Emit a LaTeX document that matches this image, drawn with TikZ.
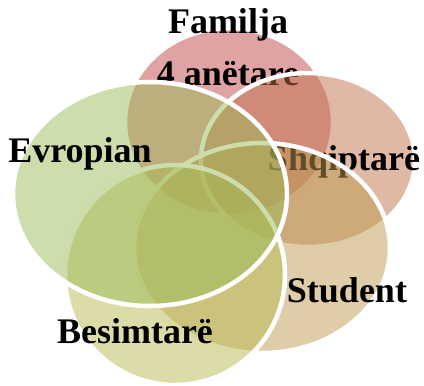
\documentclass[tikz,border=0pt]{standalone}
\usepackage{fontspec}
\setmainfont{Liberation Serif}
\usepackage{tikz}
\usetikzlibrary{backgrounds}

\definecolor{famcol}{RGB}{191,71,71}
\definecolor{shqcol}{RGB}{193,113,77}
\definecolor{stucol}{RGB}{189,155,81}
\definecolor{bescol}{RGB}{185,185,81}
\definecolor{evrcol}{RGB}{155,187,89}

\begin{document}
\begin{tikzpicture}[x=1pt,y=-1pt,
    venn/.style={fill=#1,fill opacity=0.5,draw=white,line width=4.5pt},
    lbl/.style={font=\fontsize{36}{40}\selectfont\bfseries,anchor=base,inner sep=0pt}]
    \useasboundingbox (0,0) rectangle (424,386);
    % Familja
    \draw[venn=famcol] (229,122) ellipse (104pt and 94pt);
    \node[lbl] (familja) at (228,33) {Familja};
    \node[lbl] (anetare) at (228,85) {4 anëtare};
    % Shqiptare
    \draw[venn=shqcol] (308,160) ellipse (107pt and 87pt);
    \node[lbl] (shqiptare) at (344,170) {Shqiptarë};
    % Student
    \draw[venn=stucol] (262,248) ellipse (128pt and 105pt);
    \node[lbl] (student) at (347,302) {Student};
    % Besimtare
    \draw[venn=bescol] (175,275) ellipse (110pt and 110pt);
    \node[lbl] (besimtare) at (135,343) {Besimtarë};
    % Evropian
    \draw[venn=evrcol] (150,194) ellipse (137pt and 112pt);
    \node[lbl] (evropian) at (80,162) {Evropian};
\end{tikzpicture}
\end{document}
